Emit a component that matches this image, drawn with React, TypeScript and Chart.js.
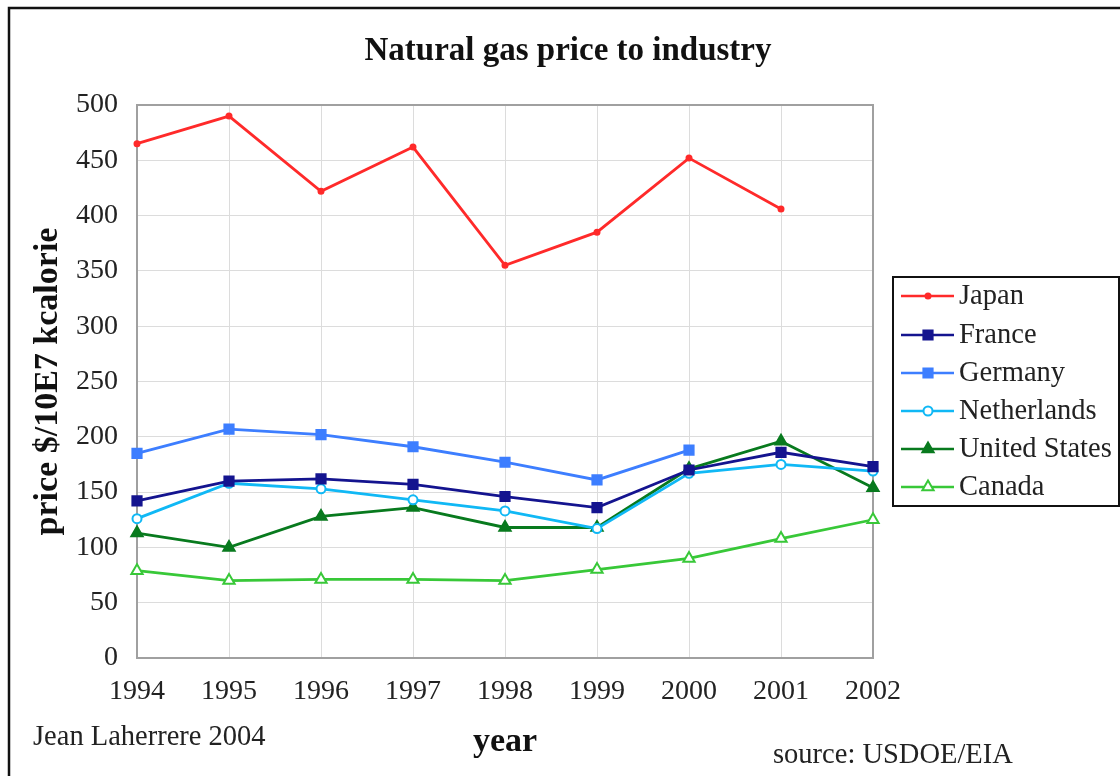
import React, { useEffect, useRef } from "react";
import { Chart, registerables } from "chart.js";

Chart.register(...registerables);

const years = ["1994", "1995", "1996", "1997", "1998", "1999", "2000", "2001", "2002"];
const japan = [465, 490, 422, 462, 355, 385, 452, 406, null];
const france = [142, 160, 162, 157, 146, 136, 170, 186, 173];
const germany = [185, 207, 202, 191, 177, 161, 188, null, null];
const netherlands = [126, 158, 153, 143, 133, 117, 167, 175, 169];
const unitedStates = [113, 100, 128, 136, 118, 118, 171, 196, 154];
const canada = [79, 70, 71, 71, 70, 80, 90, 108, 125];
const yTicks = [0, 50, 100, 150, 200, 250, 300, 350, 400, 450, 500];

const SERIF = "'Liberation Serif', 'DejaVu Serif', serif";

type Marker = "circle" | "rect" | "triangle";

function drawMarker(ctx: CanvasRenderingContext2D, style: Marker, x: number, y: number, r: number, fill: string, stroke: string) {
  ctx.save();
  ctx.beginPath();
  if (style === "circle") {
    ctx.arc(x, y, r, 0, Math.PI * 2);
  } else if (style === "rect") {
    const s = r * Math.SQRT1_2;
    ctx.rect(x - s, y - s, 2 * s, 2 * s);
  } else {
    ctx.moveTo(x, y - r);
    ctx.lineTo(x + r * 0.866, y + r * 0.5);
    ctx.lineTo(x - r * 0.866, y + r * 0.5);
    ctx.closePath();
  }
  ctx.fillStyle = fill;
  ctx.fill();
  ctx.lineWidth = 2;
  ctx.strokeStyle = stroke;
  ctx.stroke();
  ctx.restore();
}

const decorPlugin = {
  id: "decor",
  beforeDatasetsDraw(chart: any) {
    const { ctx, chartArea } = chart;
    ctx.save();
    ctx.strokeStyle = "#a0a0a0";
    ctx.lineWidth = 2;
    ctx.strokeRect(chartArea.left, chartArea.top, chartArea.right - chartArea.left, chartArea.bottom - chartArea.top);
    ctx.restore();
  },
  afterDraw(chart: any) {
    const { ctx } = chart;
    ctx.save();
    // outer frame
    ctx.strokeStyle = "#111";
    ctx.lineWidth = 2.5;
    ctx.beginPath();
    ctx.moveTo(9, 776);
    ctx.lineTo(9, 8);
    ctx.lineTo(1120, 8);
    ctx.stroke();

    // title
    ctx.fillStyle = "#111";
    ctx.font = `bold 33px ${SERIF}`;
    ctx.textAlign = "center";
    ctx.textBaseline = "alphabetic";
    ctx.fillText("Natural gas price to industry", 568, 60);

    // footers
    ctx.font = `28.5px ${SERIF}`;
    ctx.textAlign = "left";
    ctx.fillStyle = "#222";
    ctx.fillText("Jean Laherrere 2004", 33, 745);
    ctx.fillText("source: USDOE/EIA", 773, 763);

    // legend
    const lx = 893, ly = 277, lw = 226, lh = 229;
    ctx.fillStyle = "#fff";
    ctx.fillRect(lx, ly, lw, lh);
    ctx.strokeStyle = "#111";
    ctx.lineWidth = 2;
    ctx.strokeRect(lx, ly, lw, lh);
    const rows = [296, 335, 373, 411, 449, 487];
    chart.data.datasets.forEach((ds: any, i: number) => {
      const y = rows[i];
      ctx.strokeStyle = ds.borderColor;
      ctx.lineWidth = 2.5;
      ctx.beginPath();
      ctx.moveTo(901, y);
      ctx.lineTo(954, y);
      ctx.stroke();
      drawMarker(ctx, ds.pointStyle, 928, y, ds.pointRadius, ds.pointBackgroundColor, ds.borderColor);
      ctx.fillStyle = "#222";
      ctx.font = `28.5px ${SERIF}`;
      ctx.textAlign = "left";
      ctx.textBaseline = "middle";
      ctx.fillText(ds.label, 959, y + 1);
    });
    ctx.restore();
  },
};

export default function App() {
  const ref = useRef<HTMLCanvasElement | null>(null);
  useEffect(() => {
    if (!ref.current) return;
    const mk = (label: string, data: (number | null)[], color: string, style: Marker, radius: number, fill: string) => ({
      label,
      data,
      borderColor: color,
      backgroundColor: color,
      pointBackgroundColor: fill,
      pointBorderColor: color,
      pointBorderWidth: 2,
      pointStyle: style,
      pointRadius: radius,
      borderWidth: 2.8,
      tension: 0,
      spanGaps: false,
    });
    const chart = new Chart(ref.current, {
      type: "line",
      data: {
        labels: years,
        datasets: [
          mk("Japan", japan, "#ff2a2a", "circle", 2.5, "#ff2a2a"),
          mk("France", france, "#14148f", "rect", 6.5, "#14148f"),
          mk("Germany", germany, "#3d7eff", "rect", 6.5, "#3d7eff"),
          mk("Netherlands", netherlands, "#10b8f5", "circle", 4.5, "#ffffff"),
          mk("United States", unitedStates, "#087a1e", "triangle", 6.5, "#087a1e"),
          mk("Canada", canada, "#38c838", "triangle", 6.5, "#ffffff"),
        ] as any,
      },
      options: {
        responsive: false,
        animation: false,
        devicePixelRatio: 1,
        layout: { padding: { left: 0, right: 247, top: 105, bottom: 0 } },
        plugins: { legend: { display: false }, title: { display: false }, tooltip: { enabled: false } },
        scales: {
          x: {
            type: "category",
            offset: false,
            grid: { color: "#dcdcdc", lineWidth: 1, drawTicks: false, offset: false },
            border: { display: false },
            ticks: { color: "#222", font: { family: SERIF, size: 28 }, padding: 17, autoSkip: false, maxRotation: 0 },
            title: { display: true, text: "year", color: "#111", font: { family: SERIF, size: 34, weight: "bold" }, padding: { top: 0, bottom: 13 } },
            afterFit: (s: any) => { s.height = 118; },
          },
          y: {
            min: 0,
            max: 500,
            afterBuildTicks: (s: any) => { s.ticks = yTicks.map((v) => ({ value: v })); },
            grid: { color: "#dcdcdc", lineWidth: 1, drawTicks: false },
            border: { display: false },
            ticks: { color: "#222", font: { family: SERIF, size: 28 }, padding: 19 },
            title: { display: true, text: "price $/10E7 kcalorie", color: "#111", font: { family: SERIF, size: 34, weight: "bold" }, padding: { top: 28, bottom: 0 } },
            afterFit: (s: any) => { s.width = 137; },
          },
        },
      } as any,
      plugins: [decorPlugin],
    });
    return () => chart.destroy();
  }, []);
  return (
    <div style={{ position: "absolute", left: 0, top: 0, width: 1120, height: 776, background: "#fff" }}>
      <canvas ref={ref} width={1120} height={776} style={{ display: "block" }} />
    </div>
  );
}
